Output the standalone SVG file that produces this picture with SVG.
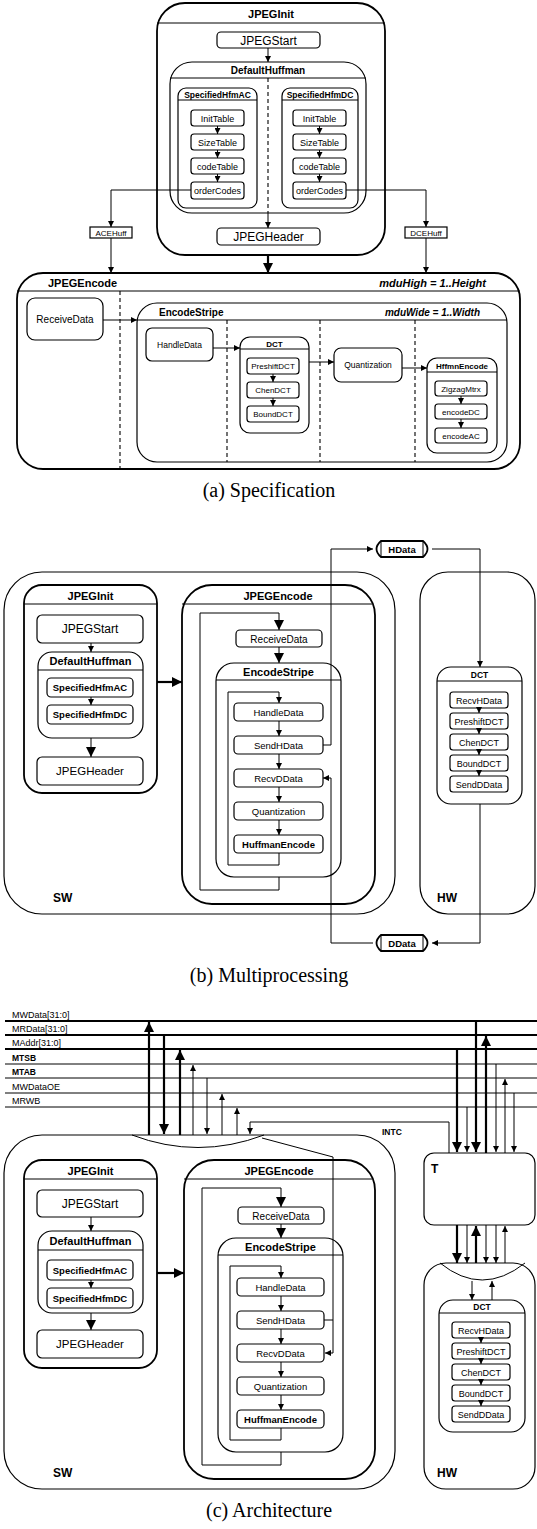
<svg xmlns="http://www.w3.org/2000/svg" width="537" height="1529" viewBox="0 0 537 1529">
<style>
.bx{fill:#fff;stroke:#000;stroke-width:1.2}
.k{stroke-width:1.8}
.s{fill:none;stroke:#000;stroke-width:1}
.d{fill:none;stroke:#000;stroke-width:1.1;stroke-dasharray:4 3}
.w{fill:none;stroke:#000;stroke-width:1}
.W{fill:none;stroke:#000;stroke-width:2.2}
text{font-family:"Liberation Sans",Arial,sans-serif;fill:#000}
.c{text-anchor:middle}
.e{text-anchor:end}
.b{font-weight:bold}
.i{font-style:italic}
.cap{font-family:"Liberation Serif","Times New Roman",serif;font-size:20px;text-anchor:middle}
</style>
<defs>
<marker id="a" viewBox="0 0 10 10" refX="10" refY="5" markerWidth="6" markerHeight="6" markerUnits="userSpaceOnUse" orient="auto"><path d="M0,0L10,5L0,10z"/></marker>
<marker id="A" viewBox="0 0 10 10" refX="10" refY="5" markerWidth="10" markerHeight="10" markerUnits="userSpaceOnUse" orient="auto"><path d="M0,0L10,5L0,10z"/></marker>
</defs>

<!-- ================= (a) Specification ================= -->
<g id="a-JPEGInit">
<rect class="bx k" x="157" y="3" width="228" height="252" rx="28"/>
<line class="s" x1="157" y1="23" x2="385" y2="23"/>
<text class="c b" x="271" y="18" font-size="11">JPEGInit</text>
</g>
<g id="a-JPEGStart"><rect class="bx" x="217" y="32" width="103" height="16" rx="4"/><text class="c" x="268.5" y="44.5" font-size="12">JPEGStart</text></g>
<g id="a-DefaultHuffman">
<rect class="bx" x="170" y="62" width="196" height="151" rx="22"/>
<line class="s" x1="170" y1="78" x2="366" y2="78"/>
<text class="c b" x="268" y="74" font-size="10">DefaultHuffman</text>
<line class="d" x1="268" y1="78" x2="268" y2="213"/>
</g>
<g id="a-SpecifiedHfmAC">
<rect class="bx" x="178" y="88" width="79" height="120" rx="8"/>
<line class="s" x1="178" y1="100" x2="257" y2="100"/>
<text class="c b" x="217.5" y="97.5" font-size="8.5">SpecifiedHfmAC</text>
</g>
<g id="a-SpecifiedHfmDC">
<rect class="bx" x="282" y="88" width="76" height="120" rx="8"/>
<line class="s" x1="282" y1="100" x2="358" y2="100"/>
<text class="c b" x="320" y="97.5" font-size="8.5">SpecifiedHfmDC</text>
</g>
<g id="a-AC-InitTable"><rect class="bx" x="191" y="110" width="53" height="16" rx="3"/><text class="c" x="217.5" y="121.5" font-size="9">InitTable</text></g>
<g id="a-AC-SizeTable"><rect class="bx" x="191" y="134" width="53" height="16" rx="3"/><text class="c" x="217.5" y="145.5" font-size="9">SizeTable</text></g>
<g id="a-AC-codeTable"><rect class="bx" x="191" y="158" width="53" height="16" rx="3"/><text class="c" x="217.5" y="169.5" font-size="9">codeTable</text></g>
<g id="a-AC-orderCodes"><rect class="bx" x="191" y="182" width="53" height="17" rx="3"/><text class="c" x="217.5" y="194" font-size="9">orderCodes</text></g>
<g id="a-DC-InitTable"><rect class="bx" x="293" y="110" width="53" height="16" rx="3"/><text class="c" x="319.5" y="121.5" font-size="9">InitTable</text></g>
<g id="a-DC-SizeTable"><rect class="bx" x="293" y="134" width="53" height="16" rx="3"/><text class="c" x="319.5" y="145.5" font-size="9">SizeTable</text></g>
<g id="a-DC-codeTable"><rect class="bx" x="293" y="158" width="53" height="16" rx="3"/><text class="c" x="319.5" y="169.5" font-size="9">codeTable</text></g>
<g id="a-DC-orderCodes"><rect class="bx" x="293" y="182" width="53" height="17" rx="3"/><text class="c" x="319.5" y="194" font-size="9">orderCodes</text></g>
<g id="a-JPEGHeader"><rect class="bx" x="217" y="228" width="103" height="17" rx="4"/><text class="c" x="268.5" y="241" font-size="12">JPEGHeader</text></g>
<g id="a-ACEHuff"><rect class="bx" x="90" y="227" width="42" height="11"/><text class="c" x="111" y="235.5" font-size="8">ACEHuff</text></g>
<g id="a-DCEHuff"><rect class="bx" x="405" y="227" width="42" height="11"/><text class="c" x="426" y="235.5" font-size="8">DCEHuff</text></g>

<g id="a-JPEGEncode">
<rect class="bx k" x="17" y="273" width="503" height="196" rx="26"/>
<line class="s" x1="17" y1="291" x2="520" y2="291"/>
<text class="b" x="48" y="287" font-size="11">JPEGEncode</text>
<text class="e b i" x="486" y="287" font-size="11">mduHigh = 1..Height</text>
<line class="d" x1="120" y1="291" x2="120" y2="469"/>
</g>
<g id="a-ReceiveData"><rect class="bx" x="27" y="298" width="76" height="42" rx="8"/><text class="c" x="65" y="322.5" font-size="10">ReceiveData</text></g>
<g id="a-EncodeStripe">
<rect class="bx" x="137" y="303" width="370" height="159" rx="20"/>
<line class="s" x1="137" y1="320" x2="507" y2="320"/>
<text class="b" x="159" y="316" font-size="10">EncodeStripe</text>
<text class="e b i" x="480" y="316" font-size="10">mduWide = 1..Width</text>
<line class="d" x1="227" y1="320" x2="227" y2="462"/>
<line class="d" x1="320" y1="320" x2="320" y2="462"/>
<line class="d" x1="415" y1="320" x2="415" y2="462"/>
</g>
<g id="a-HandleData"><rect class="bx" x="146" y="328" width="67" height="33" rx="6"/><text class="c" x="179.5" y="347.5" font-size="8.5">HandleData</text></g>
<g id="a-DCT">
<rect class="bx" x="240" y="337" width="69" height="96" rx="10"/>
<line class="s" x1="240" y1="349" x2="309" y2="349"/>
<text class="c b" x="274.5" y="346.5" font-size="8">DCT</text>
</g>
<g id="a-PreshiftDCT"><rect class="bx" x="247" y="358" width="52" height="16" rx="3"/><text class="c" x="273" y="369" font-size="8">PreshiftDCT</text></g>
<g id="a-ChenDCT"><rect class="bx" x="247" y="382" width="52" height="16" rx="3"/><text class="c" x="273" y="393" font-size="8">ChenDCT</text></g>
<g id="a-BoundDCT"><rect class="bx" x="247" y="406" width="52" height="16" rx="3"/><text class="c" x="273" y="417" font-size="8">BoundDCT</text></g>
<g id="a-Quantization"><rect class="bx" x="334" y="348" width="68" height="34" rx="7"/><text class="c" x="368" y="368" font-size="8.5">Quantization</text></g>
<g id="a-HffmnEncode">
<rect class="bx" x="427" y="358" width="70" height="95" rx="10"/>
<line class="s" x1="427" y1="372" x2="497" y2="372"/>
<text class="c b" x="462" y="368.5" font-size="8">HffmnEncode</text>
</g>
<g id="a-ZigzagMtrx"><rect class="bx" x="435" y="381" width="52" height="15" rx="3"/><text class="c" x="461" y="391.5" font-size="8">ZigzagMtrx</text></g>
<g id="a-encodeDC"><rect class="bx" x="435" y="404" width="52" height="15" rx="3"/><text class="c" x="461" y="414.5" font-size="8">encodeDC</text></g>
<g id="a-encodeAC"><rect class="bx" x="435" y="428" width="52" height="15" rx="3"/><text class="c" x="461" y="438.5" font-size="8">encodeAC</text></g>
<text class="cap" x="269" y="497">(a) Specification</text>

<!-- ================= (b) Multiprocessing ================= -->
<g id="b-SW"><rect class="bx" x="4" y="572" width="391" height="342" rx="38" stroke-width="2"/><text class="b" x="53" y="902" font-size="12">SW</text></g>
<g id="b-HW"><rect class="bx" x="420" y="572" width="115" height="342" rx="28" stroke-width="2"/><text class="b" x="437" y="902" font-size="12">HW</text></g>
<g id="b-JPEGInit">
<rect class="bx k" x="24" y="585" width="133" height="208" rx="18"/>
<line class="s" x1="24" y1="604" x2="157" y2="604"/>
<text class="c b" x="90.5" y="600" font-size="11">JPEGInit</text>
</g>
<g id="b-JPEGStart"><rect class="bx" x="37" y="615" width="106" height="28" rx="5"/><text class="c" x="90" y="633" font-size="12">JPEGStart</text></g>
<g id="b-DefaultHuffman">
<rect class="bx" x="38" y="652" width="105" height="86" rx="14"/>
<line class="s" x1="38" y1="670" x2="143" y2="670"/>
<text class="c b" x="90.5" y="665" font-size="11">DefaultHuffman</text>
</g>
<g id="b-SpecifiedHfmAC"><rect class="bx" x="47" y="678" width="86" height="19" rx="4"/><text class="c b" x="90" y="691" font-size="9.5">SpecifiedHfmAC</text></g>
<g id="b-SpecifiedHfmDC"><rect class="bx" x="47" y="705" width="86" height="19" rx="4"/><text class="c b" x="90" y="718" font-size="9.5">SpecifiedHfmDC</text></g>
<g id="b-JPEGHeader"><rect class="bx" x="37" y="757" width="106" height="28" rx="5"/><text class="c" x="90" y="775" font-size="11.5">JPEGHeader</text></g>
<g id="b-JPEGEncode">
<rect class="bx k" x="182" y="585" width="193" height="319" rx="30"/>
<line class="s" x1="182" y1="604" x2="372" y2="604"/>
<text class="c b" x="278" y="600" font-size="11">JPEGEncode</text>
</g>
<g id="b-ReceiveData"><rect class="bx" x="236" y="630" width="86" height="17" rx="4"/><text class="c" x="279" y="642.5" font-size="10">ReceiveData</text></g>
<g id="b-EncodeStripe">
<rect class="bx" x="216" y="663" width="125" height="214" rx="18"/>
<line class="s" x1="216" y1="680" x2="341" y2="680"/>
<text class="c b" x="278.5" y="676" font-size="11">EncodeStripe</text>
</g>
<g id="b-HandleData"><rect class="bx" x="234" y="703" width="89" height="18" rx="4"/><text class="c" x="278.5" y="715.5" font-size="9.5">HandleData</text></g>
<g id="b-SendHData"><rect class="bx" x="234" y="736" width="89" height="18" rx="4"/><text class="c" x="278.5" y="748.5" font-size="9.5">SendHData</text></g>
<g id="b-RecvDData"><rect class="bx" x="234" y="769" width="89" height="18" rx="4"/><text class="c" x="278.5" y="781.5" font-size="9.5">RecvDData</text></g>
<g id="b-Quantization"><rect class="bx" x="234" y="802" width="89" height="18" rx="4"/><text class="c" x="278.5" y="814.5" font-size="9.5">Quantization</text></g>
<g id="b-HuffmanEncode"><rect class="bx" x="234" y="835" width="89" height="18" rx="4"/><text class="c b" x="278.5" y="847.5" font-size="9.5">HuffmanEncode</text></g>
<g id="b-DCT">
<rect class="bx" x="437" y="667" width="85" height="137" rx="14"/>
<line class="s" x1="437" y1="681" x2="522" y2="681"/>
<text class="c b" x="479.5" y="677.5" font-size="8.5">DCT</text>
</g>
<g id="b-RecvHData"><rect class="bx" x="450" y="692" width="58" height="16" rx="3"/><text class="c" x="479" y="703.5" font-size="9">RecvHData</text></g>
<g id="b-PreshiftDCT"><rect class="bx" x="450" y="713" width="58" height="16" rx="3"/><text class="c" x="479" y="724.5" font-size="9">PreshiftDCT</text></g>
<g id="b-ChenDCT"><rect class="bx" x="450" y="734" width="58" height="16" rx="3"/><text class="c" x="479" y="745.5" font-size="9">ChenDCT</text></g>
<g id="b-BoundDCT"><rect class="bx" x="450" y="755" width="58" height="16" rx="3"/><text class="c" x="479" y="766.5" font-size="9">BoundDCT</text></g>
<g id="b-SendDData"><rect class="bx" x="450" y="776" width="58" height="16" rx="3"/><text class="c" x="479" y="787.5" font-size="9">SendDData</text></g>
<g id="b-HData">
<path class="bx k" d="M381,541H423Q432,549 423,557H381Q372,549 381,541Z"/>
<line class="s" x1="381" y1="541" x2="381" y2="557"/><line class="s" x1="423" y1="541" x2="423" y2="557"/>
<text class="c b" x="402" y="552.5" font-size="9.5">HData</text>
</g>
<g id="b-DData">
<path class="bx k" d="M381,935H423Q432,943 423,951H381Q372,943 381,935Z"/>
<line class="s" x1="381" y1="935" x2="381" y2="951"/><line class="s" x1="423" y1="935" x2="423" y2="951"/>
<text class="c b" x="402" y="946.5" font-size="9.5">DData</text>
</g>
<text class="cap" x="269" y="982">(b) Multiprocessing</text>

<!-- ================= (c) Architecture ================= -->
<g id="c-bus">
<line class="W" x1="5" y1="1021" x2="537" y2="1021"/>
<line class="W" x1="5" y1="1035" x2="537" y2="1035"/>
<line class="W" x1="5" y1="1049" x2="537" y2="1049"/>
<line class="w" x1="5" y1="1064" x2="537" y2="1064"/>
<line class="w" x1="5" y1="1078" x2="537" y2="1078"/>
<line class="w" x1="5" y1="1093" x2="537" y2="1093"/>
<line class="w" x1="5" y1="1107" x2="537" y2="1107"/>
<text x="12" y="1018" font-size="9">MWData[31:0]</text>
<text x="12" y="1032" font-size="9">MRData[31:0]</text>
<text x="12" y="1046" font-size="9">MAddr[31:0]</text>
<text class="b" x="12" y="1061" font-size="8.5">MTSB</text>
<text class="b" x="12" y="1075" font-size="8.5">MTAB</text>
<text x="12" y="1090" font-size="9">MWDataOE</text>
<text x="12" y="1104" font-size="9">MRWB</text>
</g>
<g id="c-SW">
<rect class="bx" x="4" y="1135" width="391" height="354" rx="38" stroke-width="2"/>
<path class="s" d="M132,1135Q198,1160 264,1135" stroke-width="1.6"/>
<text class="b" x="53" y="1477" font-size="12">SW</text>
</g>
<g id="c-T"><rect class="bx" x="424" y="1153" width="111" height="72" rx="10" stroke-width="1.8"/><text class="b" x="431" y="1173" font-size="12">T</text></g>
<g id="c-HW">
<rect class="bx" x="424" y="1263" width="111" height="226" rx="22" stroke-width="2"/>
<path class="s" d="M440,1263Q482,1297 525,1263" stroke-width="1.6"/>
<text class="b" x="437" y="1477" font-size="12">HW</text>
</g>
<g id="c-JPEGInit">
<rect class="bx k" x="24" y="1160" width="133" height="208" rx="18"/>
<line class="s" x1="24" y1="1179" x2="157" y2="1179"/>
<text class="c b" x="90.5" y="1175" font-size="11">JPEGInit</text>
</g>
<g id="c-JPEGStart"><rect class="bx" x="37" y="1190" width="106" height="27" rx="5"/><text class="c" x="90" y="1208" font-size="12">JPEGStart</text></g>
<g id="c-DefaultHuffman">
<rect class="bx" x="38" y="1231" width="105" height="82" rx="14"/>
<line class="s" x1="38" y1="1250" x2="143" y2="1250"/>
<text class="c b" x="90.5" y="1245" font-size="11">DefaultHuffman</text>
</g>
<g id="c-SpecifiedHfmAC"><rect class="bx" x="47" y="1260" width="86" height="20" rx="4"/><text class="c b" x="90" y="1273.5" font-size="9.5">SpecifiedHfmAC</text></g>
<g id="c-SpecifiedHfmDC"><rect class="bx" x="47" y="1288" width="86" height="20" rx="4"/><text class="c b" x="90" y="1301.5" font-size="9.5">SpecifiedHfmDC</text></g>
<g id="c-JPEGHeader"><rect class="bx" x="37" y="1330" width="106" height="28" rx="5"/><text class="c" x="90" y="1348" font-size="11.5">JPEGHeader</text></g>
<g id="c-JPEGEncode">
<rect class="bx k" x="184" y="1160" width="191" height="319" rx="30"/>
<line class="s" x1="184" y1="1179" x2="372" y2="1179"/>
<text class="c b" x="279" y="1175" font-size="11">JPEGEncode</text>
</g>
<g id="c-ReceiveData"><rect class="bx" x="238" y="1207" width="86" height="17" rx="4"/><text class="c" x="281" y="1219.5" font-size="10">ReceiveData</text></g>
<g id="c-EncodeStripe">
<rect class="bx" x="218" y="1238" width="125" height="214" rx="18"/>
<line class="s" x1="218" y1="1255" x2="343" y2="1255"/>
<text class="c b" x="280.5" y="1251" font-size="11">EncodeStripe</text>
</g>
<g id="c-HandleData"><rect class="bx" x="237" y="1278" width="87" height="18" rx="4"/><text class="c" x="280.5" y="1290.5" font-size="9.5">HandleData</text></g>
<g id="c-SendHData"><rect class="bx" x="237" y="1311" width="87" height="18" rx="4"/><text class="c" x="280.5" y="1323.5" font-size="9.5">SendHData</text></g>
<g id="c-RecvDData"><rect class="bx" x="237" y="1344" width="87" height="18" rx="4"/><text class="c" x="280.5" y="1356.5" font-size="9.5">RecvDData</text></g>
<g id="c-Quantization"><rect class="bx" x="237" y="1377" width="87" height="18" rx="4"/><text class="c" x="280.5" y="1389.5" font-size="9.5">Quantization</text></g>
<g id="c-HuffmanEncode"><rect class="bx" x="237" y="1410" width="87" height="18" rx="4"/><text class="c b" x="280.5" y="1422.5" font-size="9.5">HuffmanEncode</text></g>
<g id="c-DCT">
<rect class="bx" x="439" y="1300" width="86" height="132" rx="14"/>
<line class="s" x1="439" y1="1313" x2="525" y2="1313"/>
<text class="c b" x="482" y="1310" font-size="8.5">DCT</text>
</g>
<g id="c-RecvHData"><rect class="bx" x="452" y="1322" width="58" height="16" rx="3"/><text class="c" x="481" y="1333.5" font-size="9">RecvHData</text></g>
<g id="c-PreshiftDCT"><rect class="bx" x="452" y="1343" width="58" height="16" rx="3"/><text class="c" x="481" y="1354.5" font-size="9">PreshiftDCT</text></g>
<g id="c-ChenDCT"><rect class="bx" x="452" y="1364" width="58" height="16" rx="3"/><text class="c" x="481" y="1375.5" font-size="9">ChenDCT</text></g>
<g id="c-BoundDCT"><rect class="bx" x="452" y="1385" width="58" height="16" rx="3"/><text class="c" x="481" y="1396.5" font-size="9">BoundDCT</text></g>
<g id="c-SendDData"><rect class="bx" x="452" y="1406" width="58" height="16" rx="3"/><text class="c" x="481" y="1417.5" font-size="9">SendDData</text></g>
<text class="b" x="382" y="1135" font-size="8.5">INTC</text>
<text class="cap" x="269" y="1517">(c) Architecture</text>

<!-- ================= connectors ================= -->
<g id="connectors">
<!-- (a) -->
<path class="w" d="M268,48V62" marker-end="url(#a)"/>
<path class="w" d="M217.5,126V134" marker-end="url(#a)"/>
<path class="w" d="M217.5,150V158" marker-end="url(#a)"/>
<path class="w" d="M217.5,174V182" marker-end="url(#a)"/>
<path class="w" d="M319.5,126V134" marker-end="url(#a)"/>
<path class="w" d="M319.5,150V158" marker-end="url(#a)"/>
<path class="w" d="M319.5,174V182" marker-end="url(#a)"/>
<path class="w" d="M191,190H111V227" marker-end="url(#a)"/>
<path class="w" d="M346,190H426V227" marker-end="url(#a)"/>
<path class="w" d="M268,213V228" marker-end="url(#a)"/>
<path class="w" d="M111,238V273" marker-end="url(#a)"/>
<path class="w" d="M426,238V273" marker-end="url(#a)"/>
<path class="W" d="M268,255V273" marker-end="url(#A)"/>
<path class="w" d="M103,320H137" marker-end="url(#a)"/>
<path class="w" d="M213,348H240" marker-end="url(#a)"/>
<path class="w" d="M273,374V382" marker-end="url(#a)"/>
<path class="w" d="M273,398V406" marker-end="url(#a)"/>
<path class="w" d="M309,362H334" marker-end="url(#a)"/>
<path class="w" d="M402,368H427" marker-end="url(#a)"/>
<path class="w" d="M461,396V404" marker-end="url(#a)"/>
<path class="w" d="M461,419V428" marker-end="url(#a)"/>
<!-- (b) -->
<path class="w" d="M91,643V652" marker-end="url(#a)"/>
<path class="w" d="M91,697V705" marker-end="url(#a)"/>
<path class="w" d="M91,738V757" marker-end="url(#A)"/>
<path class="W" d="M157,682H182" marker-end="url(#A)"/>
<path class="w" d="M279,877V890H200V613H279V630" marker-end="url(#A)"/>
<path class="w" d="M279,647V663" marker-end="url(#A)"/>
<path class="w" d="M279,853V865H228V692H279V703" marker-end="url(#a)"/>
<path class="w" d="M279,721V736" marker-end="url(#a)"/>
<path class="w" d="M279,754V769" marker-end="url(#a)"/>
<path class="w" d="M279,787V802" marker-end="url(#a)"/>
<path class="w" d="M279,820V835" marker-end="url(#a)"/>
<path class="w" d="M323,745H331V549H373" marker-end="url(#a)"/>
<path class="w" d="M432,549H480V667" marker-end="url(#a)"/>
<path class="w" d="M479,708V713" marker-end="url(#a)"/>
<path class="w" d="M479,729V734" marker-end="url(#a)"/>
<path class="w" d="M479,750V755" marker-end="url(#a)"/>
<path class="w" d="M479,771V776" marker-end="url(#a)"/>
<path class="w" d="M480,804V943H432" marker-end="url(#a)"/>
<path class="w" d="M373,943H331V778H323" marker-end="url(#a)"/>
<!-- (c) bus to SW -->
<path class="W" d="M149,1135V1022" marker-end="url(#A)"/>
<path class="W" d="M164,1035V1134" marker-end="url(#A)"/>
<path class="W" d="M180,1135V1050" marker-end="url(#A)"/>
<path class="w" d="M193,1135V1065" marker-end="url(#a)"/>
<path class="w" d="M207,1078V1134" marker-end="url(#a)"/>
<path class="w" d="M222,1135V1094" marker-end="url(#a)"/>
<path class="w" d="M237,1135V1108" marker-end="url(#a)"/>
<path class="w" d="M449,1153V1122H250V1134" marker-end="url(#a)"/>
<!-- (c) bus to T -->
<path class="W" d="M457,1049V1152" marker-end="url(#A)"/>
<path class="w" d="M467,1107V1152" marker-end="url(#a)"/>
<path class="W" d="M476,1021V1152" marker-end="url(#A)"/>
<path class="W" d="M486,1153V1036" marker-end="url(#A)"/>
<path class="w" d="M496,1064V1152" marker-end="url(#a)"/>
<path class="w" d="M505,1153V1079" marker-end="url(#a)"/>
<path class="w" d="M514,1093V1152" marker-end="url(#a)"/>
<!-- (c) T to HW -->
<path class="W" d="M457,1225V1263" marker-end="url(#A)"/>
<path class="w" d="M467,1225V1263" marker-end="url(#a)"/>
<path class="W" d="M476,1263V1226" marker-end="url(#A)"/>
<path class="w" d="M486,1225V1263" marker-end="url(#a)"/>
<path class="w" d="M496,1225V1263" marker-end="url(#a)"/>
<path class="w" d="M505,1263V1226" marker-end="url(#a)"/>
<path class="w" d="M472,1281V1300" marker-end="url(#a)"/>
<path class="w" d="M492,1300V1281" marker-end="url(#a)"/>
<path class="w" d="M481,1338V1343" marker-end="url(#a)"/>
<path class="w" d="M481,1359V1364" marker-end="url(#a)"/>
<path class="w" d="M481,1380V1385" marker-end="url(#a)"/>
<path class="w" d="M481,1401V1406" marker-end="url(#a)"/>
<!-- (c) SW internal -->
<path class="w" d="M91,1217V1231" marker-end="url(#a)"/>
<path class="w" d="M91,1280V1288" marker-end="url(#a)"/>
<path class="w" d="M91,1313V1330" marker-end="url(#A)"/>
<path class="W" d="M157,1273H184" marker-end="url(#A)"/>
<path class="w" d="M281,1452V1465H202V1188H281V1207" marker-end="url(#A)"/>
<path class="w" d="M281,1224V1238" marker-end="url(#A)"/>
<path class="w" d="M281,1428V1440H230V1266H281V1278" marker-end="url(#a)"/>
<path class="w" d="M281,1296V1311" marker-end="url(#a)"/>
<path class="w" d="M281,1329V1344" marker-end="url(#a)"/>
<path class="w" d="M281,1362V1377" marker-end="url(#a)"/>
<path class="w" d="M281,1395V1410" marker-end="url(#a)"/>
<path class="w" d="M262,1138L333,1157V1353H325" marker-end="url(#a)"/>
<path class="w" d="M324,1320H333"/>
</g>
</svg>
